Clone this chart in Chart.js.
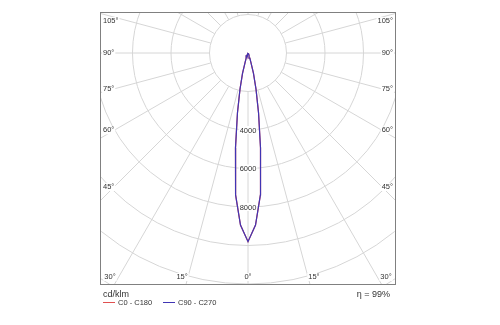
<!DOCTYPE html>
<html>
<head>
<meta charset="utf-8">
<script src="https://cdn.jsdelivr.net/npm/chart.js@4.4.1/dist/chart.umd.min.js"></script>
<style>
  html, body { margin: 0; padding: 0; background: #fff; }
  #wrap { width: 500px; height: 325px; }
</style>
</head>
<body>
<div id="wrap"><canvas id="ldc" width="500" height="325"></canvas></div>
<script>
// gamma angles (deg from nadir) and luminous intensity in cd/klm
const gammaAngles = [0, 2.5, 5, 7.5, 10, 12.5, 15, 17.5, 20, 25, 30, 40, 50, 60, 70, 80, 90];
const c0c180  = [9800, 8950, 7400, 4980, 3150, 1920, 1100, 480, 280, 130, 70, 30, 15, 8, 4, 2, 0];
const c90c270 = [9800, 8950, 7400, 4980, 3150, 1920, 1100, 480, 280, 130, 70, 30, 15, 8, 4, 2, 0];
const seriesNames = ["C0 - C180", "C90 - C270"];
const seriesColors = ["#e05050", "#4035b4"];

// grid
const ringValues = [2000, 4000, 6000, 8000, 10000, 12000, 14000, 16000, 18000];
const ringLabels = [4000, 6000, 8000];
const sideAngles = [105, 90, 75, 60, 45];
const bottomAngles = [-30, -15, 0, 15, 30];
const unitLabel = "cd/klm";
const efficiency = "η = 99%";

// mirror the half-plane curve to the full C-plane (left = C180/C270, right = C0/C90)
function toPoints(values) {
    let pts = [];
    for (let i = gammaAngles.length - 1; i >= 0; i--) {
        let g = -gammaAngles[i] * Math.PI / 180;
        pts.push({ x: values[i] * Math.sin(g), y: -values[i] * Math.cos(g) });
    }
    for (let i = 1; i < gammaAngles.length; i++) {
        let g = gammaAngles[i] * Math.PI / 180;
        pts.push({ x: values[i] * Math.sin(g), y: -values[i] * Math.cos(g) });
    }
    return pts;
}

const polarGrid = {
    id: "polarGrid",
    beforeDatasetsDraw(chart) {
        const { ctx, chartArea: a, scales } = chart;
        const cx = scales.x.getPixelForValue(0);
        const cy = scales.y.getPixelForValue(0);
        const rpx = v => scales.x.getPixelForValue(v) - cx;

        ctx.save();
        ctx.beginPath();
        ctx.rect(a.left, a.top, a.right - a.left, a.bottom - a.top);
        ctx.clip();
        ctx.strokeStyle = "#d6d6d6";
        ctx.lineWidth = 1;

        ringValues.forEach(v => {
            ctx.beginPath();
            ctx.arc(cx, cy, rpx(v), 0, Math.PI * 2);
            ctx.stroke();
        });

        const r0 = rpx(ringValues[0]);
        for (let g = 0; g < 360; g += 15) {
            let t = g * Math.PI / 180;
            let dx = Math.sin(t), dy = Math.cos(t);
            ctx.beginPath();
            ctx.moveTo(cx + dx * r0, cy + dy * r0);
            ctx.lineTo(cx + dx * 800, cy + dy * 800);
            ctx.stroke();
        }

        ctx.font = "7.5px 'Liberation Sans', Arial, sans-serif";
        ctx.textBaseline = "middle";
        ctx.fillStyle = "#333";

        // ring values along the nadir line
        ctx.textAlign = "center";
        ringLabels.forEach(v => {
            let y = cy + rpx(v);
            let w = ctx.measureText(String(v)).width;
            ctx.fillStyle = "#fff";
            ctx.fillRect(cx - w / 2 - 1, y - 4, w + 2, 8);
            ctx.fillStyle = "#333";
            ctx.fillText(String(v), cx, y + 0.5);
        });

        // angle labels on left / right sides
        const inset = 14;
        sideAngles.forEach(g => {
            let t = g * Math.PI / 180;
            let d = cx - a.left - inset;
            let y = cy + d * Math.cos(t) / Math.sin(t);
            if (g > 90) y += 4;
            let txt = g + "°";
            let w = ctx.measureText(txt).width;
            ctx.fillStyle = "#fff";
            ctx.fillRect(a.left + 2, y - 4, w + 2, 8);
            ctx.fillRect(a.right - w - 4, y - 4, w + 2, 8);
            ctx.fillStyle = "#333";
            ctx.textAlign = "left";
            ctx.fillText(txt, a.left + 3, y);
            ctx.textAlign = "right";
            ctx.fillText(txt, a.right - 3, y);
        });

        // angle labels along the bottom
        ctx.textAlign = "center";
        bottomAngles.forEach(g => {
            let t = g * Math.PI / 180;
            let y = a.bottom - 8;
            let x = cx + (a.bottom - cy) * Math.tan(t) * 1.06;
            let txt = Math.abs(g) + "°";
            if (Math.abs(g) === 30) x = g < 0 ? a.left + 10 : a.right - 10;
            let w = ctx.measureText(txt).width;
            ctx.fillStyle = "#fff";
            ctx.fillRect(x - w / 2 - 1, y - 4, w + 2, 8);
            ctx.fillStyle = "#333";
            ctx.fillText(txt, x, y);
        });
        ctx.restore();
    },
    afterDraw(chart) {
        const { ctx, chartArea: a } = chart;
        ctx.save();
        ctx.strokeStyle = "#808080";
        ctx.lineWidth = 1;
        ctx.strokeRect(a.left + 0.5, a.top + 0.5, a.right - a.left - 1, a.bottom - a.top - 1);

        ctx.fillStyle = "#333";
        ctx.textBaseline = "middle";
        ctx.font = "9px 'Liberation Sans', Arial, sans-serif";
        ctx.textAlign = "left";
        ctx.fillText(unitLabel, a.left + 3, a.bottom + 10);
        ctx.textAlign = "right";
        ctx.fillText(efficiency, a.right - 6, a.bottom + 10);

        ctx.font = "7.5px 'Liberation Sans', Arial, sans-serif";
        ctx.textAlign = "left";
        let x = a.left + 3;
        seriesNames.forEach((name, i) => {
            ctx.strokeStyle = seriesColors[i];
            ctx.beginPath();
            ctx.moveTo(x, a.bottom + 17.5);
            ctx.lineTo(x + 12, a.bottom + 17.5);
            ctx.stroke();
            ctx.fillText(name, x + 15, a.bottom + 18);
            x += 60;
        });
        ctx.restore();
    }
};

new Chart(document.getElementById("ldc"), {
    type: "scatter",
    data: {
        datasets: [
            { label: seriesNames[0], data: toPoints(c0c180), borderColor: seriesColors[0], order: 2 },
            { label: seriesNames[1], data: toPoints(c90c270), borderColor: seriesColors[1], order: 1 }
        ].map(d => Object.assign(d, {
            showLine: true, pointRadius: 0, borderWidth: 1.2, tension: 0, fill: false
        }))
    },
    options: {
        responsive: false,
        animation: false,
        layout: { padding: { left: 100, right: 104, top: 12, bottom: 40 } },
        scales: {
            x: { type: "linear", min: -7688, max: 7688, display: false },
            y: { type: "linear", min: -12052, max: 2130, display: false }
        },
        plugins: { legend: { display: false }, tooltip: { enabled: false } }
    },
    plugins: [polarGrid]
});
</script>
</body>
</html>
